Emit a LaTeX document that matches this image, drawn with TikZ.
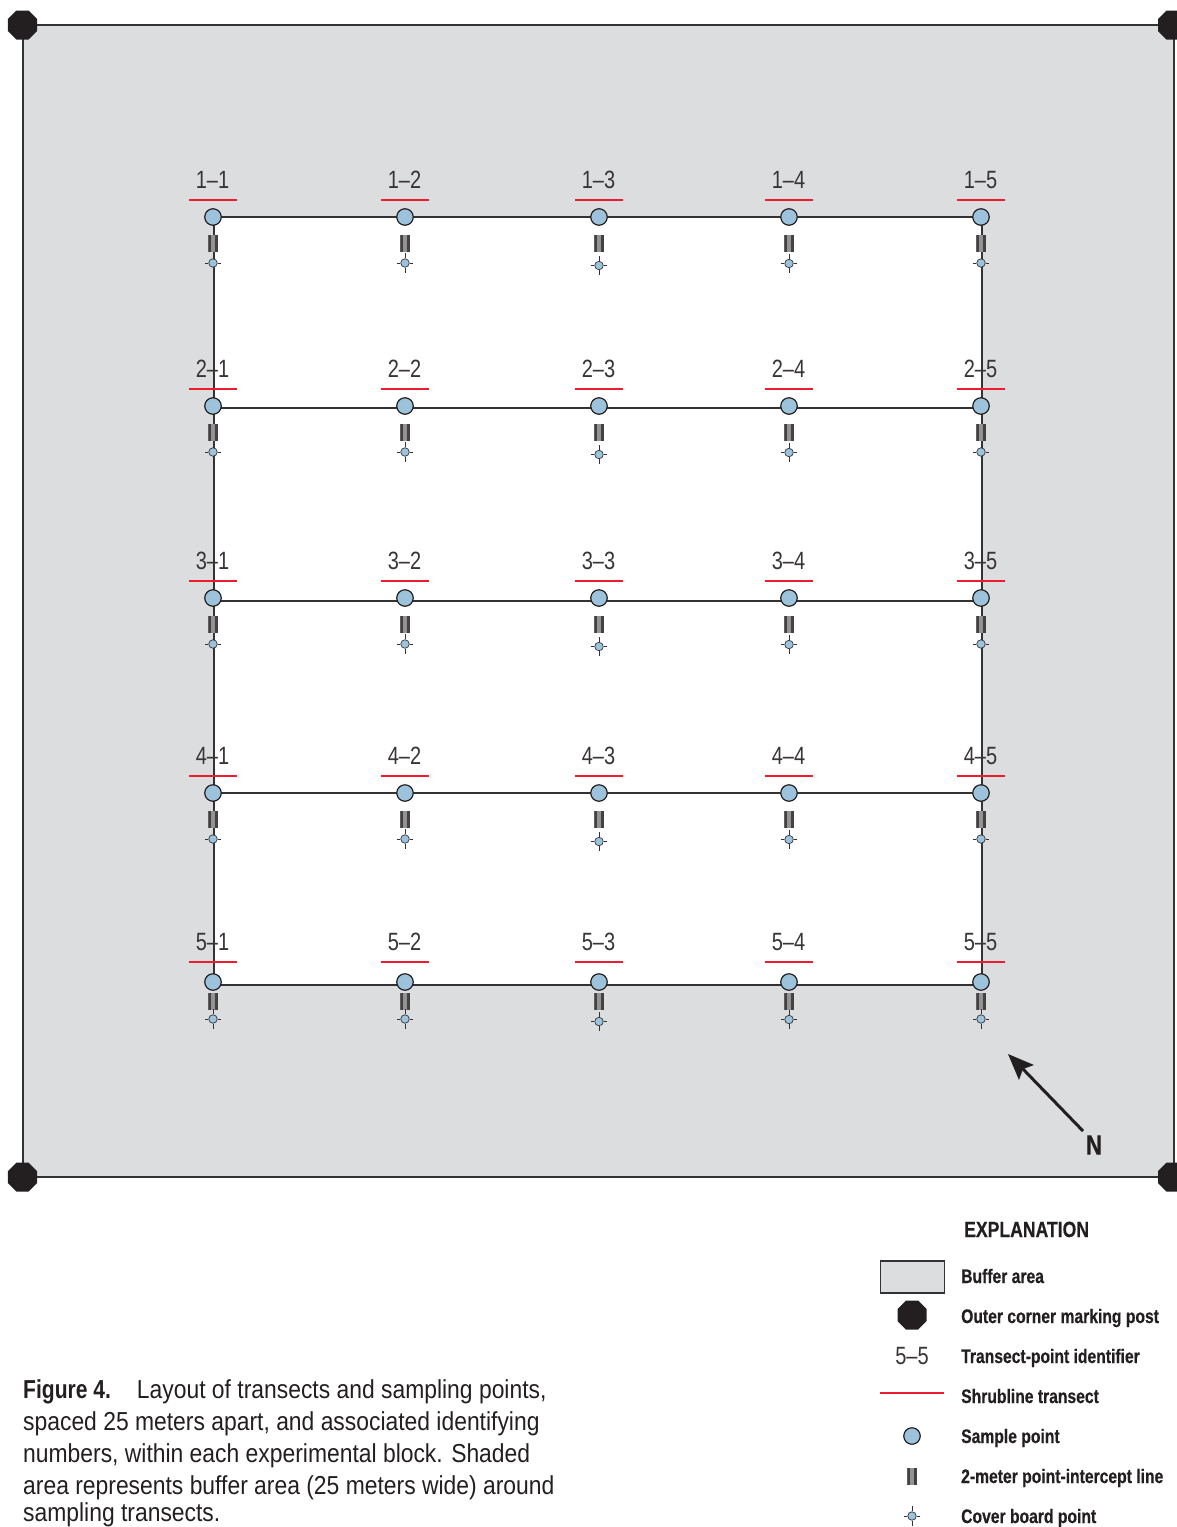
\documentclass[tikz,border=0pt]{standalone}
\usepackage{fontspec}
\usetikzlibrary{shapes.geometric}
\setmainfont{Liberation Sans}
\newfontfamily\lblfont[FakeStretch=0.80]{Liberation Sans}
\newfontfamily\capfont[FakeStretch=0.88,BoldFeatures={FakeStretch=0.81}]{Liberation Sans}
\newfontfamily\legfont[FakeStretch=0.80,BoldFeatures={FakeStretch=0.80,FakeBold=0.5}]{Liberation Sans}
\definecolor{bufgray}{HTML}{DCDDDF}
\definecolor{ptblue}{HTML}{9DC3DC}
\definecolor{shrubred}{HTML}{ED1C2E}
\definecolor{ink}{HTML}{231F20}
\definecolor{linegray}{HTML}{333335}
\tikzset{
  x=1pt,y=-1pt,
  buffer/.style={draw=linegray,line width=1.5pt,fill=bufgray,inner sep=0pt,outer sep=0pt},
  post/.style={regular polygon,regular polygon sides=8,fill=ink,inner sep=0pt,minimum size=31.4pt},
  sample/.style={circle,draw=ink,line width=1.2pt,fill=ptblue,inner sep=0pt,minimum size=16.5pt},
  intercept/.style={rectangle,fill=gray!85,inner sep=0pt,minimum width=9.5pt,minimum height=17pt,
    path picture={\fill[ink!85] (path picture bounding box.north west) rectangle ++(3pt,-17pt);
                  \fill[ink!85] (path picture bounding box.north east) rectangle ++(-3pt,-17pt);}},
  coverpt/.style={circle,draw=linegray,line width=.7pt,fill=ptblue,inner sep=0pt,minimum size=8.5pt},
  tick/.style={draw=linegray,line width=1pt},
  transect/.style={draw=linegray,line width=1.5pt},
  redline/.style={draw=shrubred,line width=1.8pt},
  idlabel/.style={inner sep=0pt,text=ink!90,font=\fontsize{25}{25}\selectfont\lblfont},
  legtext/.style={anchor=base west,inner sep=0pt,text=ink,font=\fontsize{19.6}{19.6}\selectfont\legfont\bfseries},
  captext/.style={anchor=base west,inner sep=0pt,text=ink,font=\fontsize{26}{26}\selectfont\capfont},
}
\newcommand{\coverticks}[1]{%
  \draw[tick] (#1.west) -- ++(-3.3,0);
  \draw[tick] (#1.east) -- ++(3.3,0);
  \draw[tick] (#1.north) -- ++(0,-5.3);
  \draw[tick] (#1.south) -- ++(0,5.3);
}
\begin{document}
\begin{tikzpicture}
\useasboundingbox (0,0) rectangle (1177,1527);
\clip (0,0) rectangle (1177,1527);

% buffer and plot area
\draw[buffer] (23,25) rectangle (1174,1177);
\fill[white] (214,217) rectangle (982,985);

% corner posts
\node[post] (pNW) at (22.5,25) {};
\node[post] (pNE) at (1172.5,25) {};
\node[post] (pSW) at (22.5,1177) {};
\node[post] (pSE) at (1172.5,1177) {};

% transect lines
\foreach \r/\ly in {1/217,2/408,3/601,4/793,5/985}{
  \coordinate (L\r) at (214,\ly);
  \coordinate (R\r) at (982,\ly);
  \draw[transect] (L\r) -- (R\r);
}
\draw[transect] (L1) -- (L5);
\draw[transect] (R1) -- (R5);

% grid of points
\foreach \r/\sy/\ty/\ry/\iy/\cy in {1/217/180/200/243/263,2/406/369/389/432/452,3/598/561/581/624/644,4/793/756/776/819/839,5/982/942/962/1001/1019}{
  \foreach \c/\x/\dc in {1/213/0,2/405/0,3/599/2.5,4/789/0.5,5/981/0}{
    \node[idlabel] (id\r\c) at (\x-0.5,\ty) {\r–\c};
    \coordinate (redL\r\c) at (\x-24,\ry);
    \coordinate (redR\r\c) at (\x+24,\ry);
    \draw[redline] (redL\r\c) -- (redR\r\c);
    \node[sample] (s\r\c) at (\x,\sy) {};
    \node[intercept] (i\r\c) at (\x,\iy) {};
    \node[coverpt] (c\r\c) at (\x,\cy+\dc) {};
    \coverticks{c\r\c}
  }
}

% north arrow
\node[inner sep=0pt,font=\fontsize{28}{28}\selectfont\legfont\bfseries,text=ink] (north) at (1094,1145) {N};
\coordinate (tail) at (1083,1131);
\coordinate (tip) at (1008,1054);
\draw[draw=ink,line width=3pt] (tail) -- (1022,1068);
\fill[ink] (tip) -- (1034,1065) -- (1023,1069) -- (1019,1080) -- cycle;

% legend
\node[inner sep=0pt,text=ink,font=\fontsize{22}{22}\selectfont\legfont\bfseries,anchor=base west] (exp) at (964,1237) {EXPLANATION};
\node[buffer,minimum width=64pt,minimum height=32pt] (kBuf) at (912.5,1277) {};
\node[post] (kPost) at (912,1315) {};
\node[idlabel] (kId) at (912,1356) {5–5};
\coordinate (kRedL) at (880,1393);
\coordinate (kRedR) at (944,1393);
\draw[redline] (kRedL) -- (kRedR);
\node[sample] (kSample) at (912,1436) {};
\node[intercept] (kInt) at (912,1476) {};
\node[coverpt] (kCover) at (912,1516) {};
\coverticks{kCover}
\node[legtext] (t1) at (961,1283) {Buffer area};
\node[legtext] (t2) at (961,1323) {Outer corner marking post};
\node[legtext] (t3) at (961,1363) {Transect-point identifier};
\node[legtext] (t4) at (961,1403) {Shrubline transect};
\node[legtext] (t5) at (961,1443) {Sample point};
\node[legtext] (t6) at (961,1483) {2-meter point-intercept line};
\node[legtext] (t7) at (961,1523) {Cover board point};

% caption
\node[captext] (c1) at (23,1398) {{\bfseries Figure 4.}\hspace{26pt}Layout of transects and sampling points,};
\node[captext] (c2) at (23,1430) {spaced 25 meters apart, and associated identifying};
\node[captext] (c3) at (23,1462) {numbers, within each experimental block. Shaded};
\node[captext] (c4) at (23,1494) {area represents buffer area (25 meters wide) around};
\node[captext] (c5) at (23,1521) {sampling transects.};
\end{tikzpicture}
\end{document}
